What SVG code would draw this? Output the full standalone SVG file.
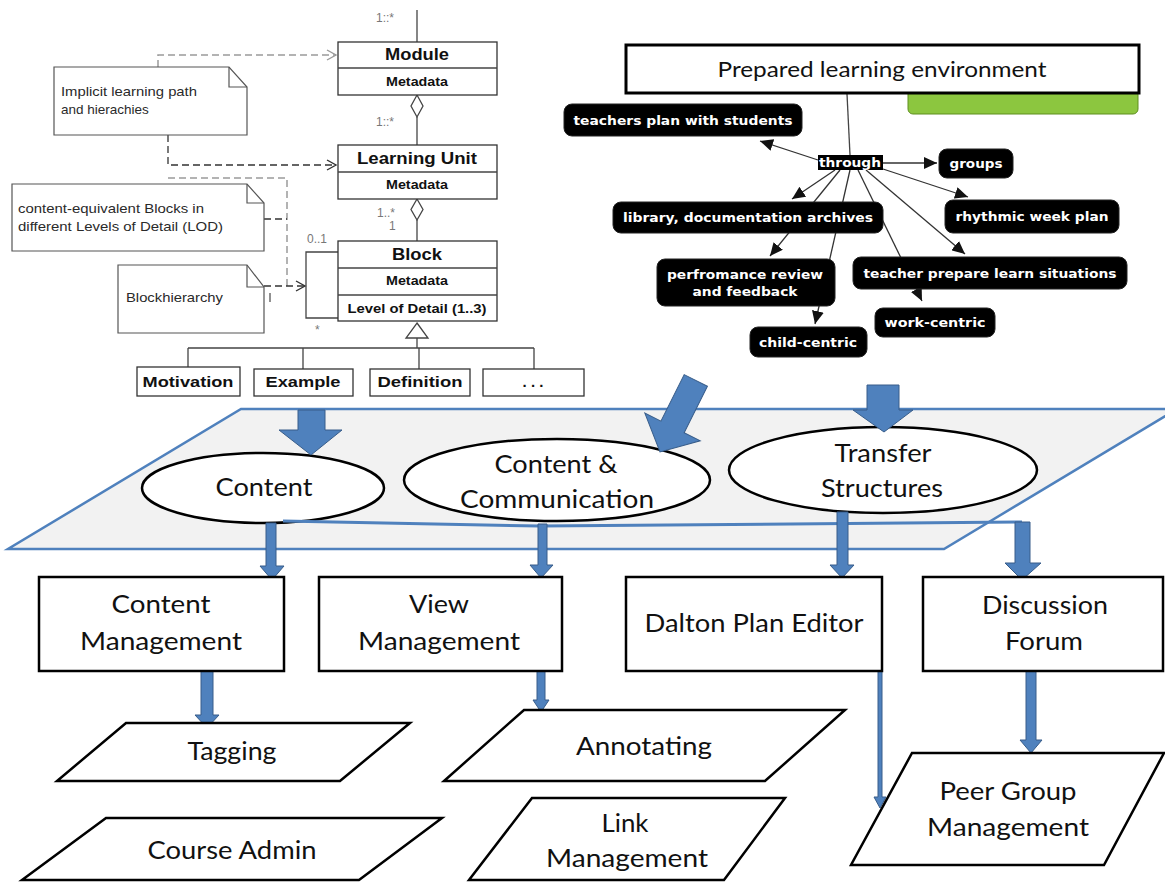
<svg xmlns="http://www.w3.org/2000/svg" width="1165" height="882" viewBox="0 0 1165 882">
<defs>
<style>
.uml{fill:#fff;stroke:#333;stroke-width:1.3}
.note{fill:#fff;stroke:#555;stroke-width:1.2}
.fold{fill:none;stroke:#555;stroke-width:1.2}
.ut{font-family:"Liberation Sans",Arial,sans-serif;font-weight:bold;fill:#111;text-anchor:middle}
.nt{font-family:"Liberation Sans",Arial,sans-serif;font-size:13.5px;fill:#2a2a2a}
.mult{font-family:"Liberation Sans",Arial,sans-serif;font-size:12px;fill:#777}
.ln{fill:none;stroke:#444;stroke-width:1.3}
.dash{fill:none;stroke:#333;stroke-width:1.3;stroke-dasharray:7 4}
.dashg{fill:none;stroke:#9a9a9a;stroke-width:1.5;stroke-dasharray:7 4}
.mm{fill:#000;stroke:#222;stroke-width:1}
.mmt{font-family:"DejaVu Sans",Verdana,sans-serif;font-weight:bold;font-size:13px;fill:#fff;text-anchor:middle}
.mml{fill:none;stroke:#333;stroke-width:1.3;marker-end:url(#mmArrow)}
.box{fill:#fff;stroke:#000;stroke-width:2.5}
.bt{font-family:Lato,"Open Sans",sans-serif;font-size:25px;fill:#111;text-anchor:middle}
.blue{fill:#4f81bd;stroke:#385d8a;stroke-width:1}
</style>
<marker id="openArrowG" markerUnits="userSpaceOnUse" markerWidth="12" markerHeight="12" refX="10" refY="6" orient="auto">
<path d="M1,1 L10,6 L1,11" fill="none" stroke="#9a9a9a" stroke-width="1.4"/>
</marker>
<marker id="openArrow" markerUnits="userSpaceOnUse" markerWidth="12" markerHeight="12" refX="10" refY="6" orient="auto">
<path d="M1,1 L10,6 L1,11" fill="none" stroke="#333" stroke-width="1.4"/>
</marker>
<marker id="mmArrow" markerUnits="userSpaceOnUse" markerWidth="14" markerHeight="12" refX="13" refY="6" orient="auto">
<path d="M0,0 L13,6 L0,12 Z" fill="#111"/>
</marker>
</defs>

<rect width="1165" height="882" fill="#fff"/>

<g id="layer-plane">
<polygon points="241,409 1177,409 944,549 8,549" fill="#f2f2f2" stroke="#4f81bd" stroke-width="2.5"/>
</g>

<g id="ellipse-content">
<ellipse cx="263" cy="488" rx="121" ry="35" fill="#fff" stroke="#000" stroke-width="2.5"/>
<text class="bt" x="264" y="496" textLength="97" lengthAdjust="spacingAndGlyphs">Content</text>
</g>
<g id="ellipse-content-communication">
<ellipse cx="557" cy="480" rx="153" ry="41" fill="#fff" stroke="#000" stroke-width="2.5"/>
<text class="bt" x="556" y="473" textLength="123" lengthAdjust="spacingAndGlyphs">Content &amp;</text>
<text class="bt" x="557" y="508" textLength="194" lengthAdjust="spacingAndGlyphs">Communication</text>
</g>
<g id="ellipse-transfer">
<ellipse cx="883" cy="470" rx="154" ry="43" fill="#fff" stroke="#000" stroke-width="2.5"/>
<text class="bt" x="883" y="462" textLength="97" lengthAdjust="spacingAndGlyphs">Transfer</text>
<text class="bt" x="882" y="497" textLength="122" lengthAdjust="spacingAndGlyphs">Structures</text>
</g>

<g id="green-box">
<rect x="908" y="84" width="230" height="30" rx="5" fill="#8cc63f" stroke="#5f8f1f" stroke-width="1"/>
</g>

<g id="connectors">
<line class="ln" x1="417" y1="10" x2="417" y2="42"/>
<polygon points="417,95 423,106 417,117 411,106" fill="#fff" stroke="#444" stroke-width="1.3"/>
<line class="ln" x1="417" y1="117" x2="417" y2="145"/>
<polygon points="417,199 423,209.5 417,220 411,209.5" fill="#fff" stroke="#444" stroke-width="1.3"/>
<line class="ln" x1="417" y1="220" x2="417" y2="241"/>
<path class="ln" d="M338,252 H306 V318 H338"/>
<polygon points="417,323 428,338 406,338" fill="#fff" stroke="#444" stroke-width="1.3"/>
<path class="ln" d="M417,338 V348 M188,348 H534 M188,348 V367 M303,348 V369 M419,348 V369 M534,348 V369"/>
<path class="dashg" d="M158,67 V55 H336" marker-end="url(#openArrowG)"/>
<path class="dash" d="M168,135 V165 H336" marker-end="url(#openArrow)"/>
<path class="dashg" d="M168,178 H287 V286"/>
<path class="dash" d="M264,219 H287"/>
<path class="dash" d="M264,286 H305" marker-end="url(#openArrow)"/>
<line x1="270" y1="293" x2="270" y2="302" stroke="#555" stroke-width="1.3"/>
<line x1="847" y1="94" x2="850" y2="155" stroke="#444" stroke-width="1.3"/>
<line class="mml" x1="818" y1="160" x2="760" y2="141"/>
<line class="mml" x1="883" y1="163" x2="937" y2="163"/>
<line class="mml" x1="883" y1="169" x2="968" y2="197"/>
<line class="mml" x1="835" y1="170" x2="792" y2="199"/>
<line class="mml" x1="840" y1="170" x2="770" y2="256"/>
<line class="mml" x1="850" y1="170" x2="815" y2="324"/>
<line class="mml" x1="858" y1="170" x2="922" y2="301"/>
<line class="mml" x1="866" y1="170" x2="965" y2="254"/>
<path class="blue" d="M298,410 H325 V430 H342 L311,455 L279,430 H298 Z"/>
<path class="blue" transform="translate(660,452) rotate(26.6)" d="M-13,-80 H13 V-28 H31 L0,0 L-31,-28 H-13 Z"/>
<path class="blue" d="M867,385 H899 V410 H913 L884,432 L853,410 H867 Z"/>
<polyline points="283,521 540,526 1022,522" fill="none" stroke="#4f81bd" stroke-width="3"/>
<path class="blue" d="M266,523 H276 V566 H284 L272,580 L260,566 H266 Z"/>
<path class="blue" d="M538,524 H547 V565 H553 L541,578 L530,565 H538 Z"/>
<path class="blue" d="M837,512 H848 V565 H854 L842,578 L830,565 H837 Z"/>
<path class="blue" d="M1015,522 H1030 V563 H1041 L1022,580 L1005,563 H1015 Z"/>
<path class="blue" d="M201,671 H213 V715 H219 L207,728 L195,715 H201 Z"/>
<path class="blue" d="M537,671 H545 V700 H549 L541,712 L533,700 H537 Z"/>
<path class="blue" d="M878,671 H882 V797 H886 L880,808 L874,797 H878 Z"/>
<path class="blue" d="M1026,671 H1036 V740 H1042 L1031,753 L1020,740 H1026 Z"/>
</g>

<g id="uml-module">
<rect class="uml" x="338" y="42" width="159" height="53"/>
<line class="ln" x1="338" y1="68" x2="497" y2="68"/>
<text class="ut" x="417" y="60" font-size="17" textLength="64" lengthAdjust="spacingAndGlyphs">Module</text>
<text class="ut" x="417" y="86" font-size="13" textLength="62" lengthAdjust="spacingAndGlyphs">Metadata</text>
<text class="mult" x="376" y="22">1::*</text>
<text class="mult" x="376" y="126">1::*</text>
</g>
<g id="uml-learning-unit">
<rect class="uml" x="338" y="145" width="159" height="54"/>
<line class="ln" x1="338" y1="172" x2="497" y2="172"/>
<text class="ut" x="417" y="164" font-size="17" textLength="120" lengthAdjust="spacingAndGlyphs">Learning Unit</text>
<text class="ut" x="417" y="189" font-size="13" textLength="62" lengthAdjust="spacingAndGlyphs">Metadata</text>
<text class="mult" x="377" y="217">1..*</text>
<text class="mult" x="389" y="230">1</text>
</g>
<g id="uml-block">
<rect class="uml" x="338" y="241" width="159" height="80"/>
<line class="ln" x1="338" y1="268" x2="497" y2="268"/>
<line class="ln" x1="338" y1="295" x2="497" y2="295"/>
<text class="ut" x="417" y="260" font-size="17" textLength="50" lengthAdjust="spacingAndGlyphs">Block</text>
<text class="ut" x="417" y="285" font-size="13" textLength="62" lengthAdjust="spacingAndGlyphs">Metadata</text>
<text class="ut" x="417" y="313" font-size="13" textLength="139" lengthAdjust="spacingAndGlyphs">Level of Detail (1..3)</text>
<text class="mult" x="307" y="243">0..1</text>
<text class="mult" x="315" y="334">*</text>
</g>
<g id="uml-motivation">
<rect class="uml" x="137" y="367" width="103" height="29"/>
<text class="ut" x="188" y="387" font-size="15" textLength="91" lengthAdjust="spacingAndGlyphs">Motivation</text>
</g>
<g id="uml-example">
<rect class="uml" x="254" y="369" width="99" height="27"/>
<text class="ut" x="303" y="387" font-size="15" textLength="75" lengthAdjust="spacingAndGlyphs">Example</text>
</g>
<g id="uml-definition">
<rect class="uml" x="370" y="369" width="100" height="27"/>
<text class="ut" x="420" y="387" font-size="15" textLength="85" lengthAdjust="spacingAndGlyphs">Definition</text>
</g>
<g id="uml-more">
<rect class="uml" x="483" y="369" width="101" height="27"/>
<text class="ut" x="533" y="387" font-size="15">. . .</text>
</g>

<g id="note-implicit">
<path class="note" d="M54,67 H229 L247,87 V135 H54 Z"/>
<path class="fold" d="M229,67 V87 H247"/>
<text class="nt" x="61" y="96" textLength="136" lengthAdjust="spacingAndGlyphs">Implicit learning path</text>
<text class="nt" x="61" y="114">and hierachies</text>
</g>
<g id="note-lod">
<path class="note" d="M12,184 H247 L264,203 V251 H12 Z"/>
<path class="fold" d="M247,184 V203 H264"/>
<text class="nt" x="18" y="213" textLength="186" lengthAdjust="spacingAndGlyphs">content-equivalent Blocks in</text>
<text class="nt" x="18" y="231" textLength="205" lengthAdjust="spacingAndGlyphs">different Levels of Detail (LOD)</text>
</g>
<g id="note-blockhierarchy">
<path class="note" d="M118,265 H247 L264,287 V333 H118 Z"/>
<path class="fold" d="M247,265 V287 H264"/>
<text class="nt" x="126" y="302" textLength="97" lengthAdjust="spacingAndGlyphs">Blockhierarchy</text>
</g>

<g id="mm-prepared">
<rect x="626" y="45" width="513" height="48" fill="#fff" stroke="#000" stroke-width="3"/>
<text x="882" y="77" font-family="Lato,'Open Sans',sans-serif" font-size="21" fill="#111" text-anchor="middle" textLength="329" lengthAdjust="spacingAndGlyphs">Prepared learning environment</text>
</g>
<g id="mm-through">
<rect x="818" y="155" width="65" height="15" fill="#000"/>
<text class="mmt" x="850" y="167" font-size="12" textLength="62" lengthAdjust="spacingAndGlyphs">through</text>
</g>
<g id="mm-teachers-plan">
<rect class="mm" x="564" y="104" width="238" height="32" rx="8"/>
<text class="mmt" x="683" y="125" textLength="219" lengthAdjust="spacingAndGlyphs">teachers plan with students</text>
</g>
<g id="mm-groups">
<rect class="mm" x="939" y="149" width="74" height="29" rx="8"/>
<text class="mmt" x="976" y="168" textLength="53" lengthAdjust="spacingAndGlyphs">groups</text>
</g>
<g id="mm-rhythmic">
<rect class="mm" x="945" y="200" width="174" height="33" rx="8"/>
<text class="mmt" x="1032" y="221" textLength="153" lengthAdjust="spacingAndGlyphs">rhythmic week plan</text>
</g>
<g id="mm-library">
<rect class="mm" x="613" y="202" width="270" height="31" rx="8"/>
<text class="mmt" x="748" y="222" textLength="250" lengthAdjust="spacingAndGlyphs">library, documentation archives</text>
</g>
<g id="mm-performance">
<rect class="mm" x="657" y="259" width="178" height="47" rx="8"/>
<text class="mmt" x="745" y="279" textLength="156" lengthAdjust="spacingAndGlyphs">perfromance review</text>
<text class="mmt" x="745" y="296" textLength="105" lengthAdjust="spacingAndGlyphs">and feedback</text>
</g>
<g id="mm-teacher-prepare">
<rect class="mm" x="853" y="257" width="274" height="32" rx="8"/>
<text class="mmt" x="990" y="278" textLength="253" lengthAdjust="spacingAndGlyphs">teacher prepare learn situations</text>
</g>
<g id="mm-work-centric">
<rect class="mm" x="875" y="308" width="120" height="29" rx="8"/>
<text class="mmt" x="935" y="327" textLength="101" lengthAdjust="spacingAndGlyphs">work-centric</text>
</g>
<g id="mm-child-centric">
<rect class="mm" x="750" y="327" width="117" height="30" rx="8"/>
<text class="mmt" x="808" y="347" textLength="98" lengthAdjust="spacingAndGlyphs">child-centric</text>
</g>

<g id="box-content-management">
<rect class="box" x="39" y="577" width="245" height="94"/>
<text class="bt" x="161" y="613" textLength="99" lengthAdjust="spacingAndGlyphs">Content</text>
<text class="bt" x="161" y="650" textLength="162" lengthAdjust="spacingAndGlyphs">Management</text>
</g>
<g id="box-view-management">
<rect class="box" x="319" y="577" width="243" height="94"/>
<text class="bt" x="439" y="613" textLength="60" lengthAdjust="spacingAndGlyphs">View</text>
<text class="bt" x="439" y="650" textLength="162" lengthAdjust="spacingAndGlyphs">Management</text>
</g>
<g id="box-dalton">
<rect class="box" x="626" y="577" width="256" height="94"/>
<text class="bt" x="754" y="632" textLength="219" lengthAdjust="spacingAndGlyphs">Dalton Plan Editor</text>
</g>
<g id="box-discussion">
<rect class="box" x="923" y="577" width="240" height="94"/>
<text class="bt" x="1045" y="614" textLength="126" lengthAdjust="spacingAndGlyphs">Discussion</text>
<text class="bt" x="1044" y="650" textLength="78" lengthAdjust="spacingAndGlyphs">Forum</text>
</g>

<g id="para-tagging">
<polygon class="box" points="126,723 410,723 340,781 57,781"/>
<text class="bt" x="232" y="760" textLength="89" lengthAdjust="spacingAndGlyphs">Tagging</text>
</g>
<g id="para-course-admin">
<polygon class="box" points="106,818 442,818 359,880 22,880"/>
<text class="bt" x="232" y="859" textLength="169" lengthAdjust="spacingAndGlyphs">Course Admin</text>
</g>
<g id="para-annotating">
<polygon class="box" points="524,710 845,710 765,781 444,781"/>
<text class="bt" x="644" y="755" textLength="136" lengthAdjust="spacingAndGlyphs">Annotating</text>
</g>
<g id="para-link">
<polygon class="box" points="532,798 785,798 724,880 469,880"/>
<text class="bt" x="625" y="832" textLength="47" lengthAdjust="spacingAndGlyphs">Link</text>
<text class="bt" x="627" y="867" textLength="162" lengthAdjust="spacingAndGlyphs">Management</text>
</g>
<g id="para-peer-group">
<polygon class="box" points="912,753 1164,753 1104,865 851,865"/>
<text class="bt" x="1008" y="800" textLength="137" lengthAdjust="spacingAndGlyphs">Peer Group</text>
<text class="bt" x="1008" y="836" textLength="162" lengthAdjust="spacingAndGlyphs">Management</text>
</g>
</svg>
